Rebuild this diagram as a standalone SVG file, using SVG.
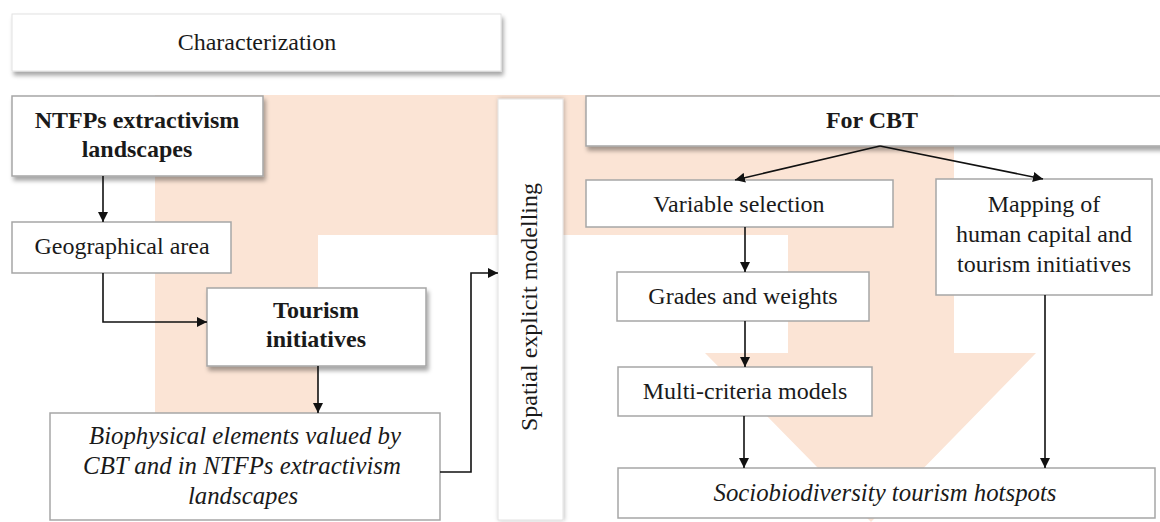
<svg xmlns="http://www.w3.org/2000/svg" width="1160" height="522" viewBox="0 0 1160 522">
  <style>
    .box { fill: #ffffff; stroke: #a6a6a6; stroke-width: 1.5; }
    .soft { fill: #ffffff; stroke: #e2e2e2; stroke-width: 1; }
    .t { font-family: 'Liberation Serif', 'Times New Roman', serif; font-size: 24px; fill: #1a1a1a; text-anchor: middle; }
    .b { font-weight: bold; }
    .i { font-style: italic; font-size: 24.8px; }
    .link { fill: none; stroke: #111111; stroke-width: 1.6; marker-end: url(#arrow); }
  </style>
  <defs>
    <marker id="arrow" viewBox="0 0 10 10" refX="10" refY="5" markerWidth="10" markerHeight="10" markerUnits="userSpaceOnUse" orient="auto">
      <path d="M0,0 L10,5 L0,10 Z" fill="#111111"/>
    </marker>
    <filter id="shadow" x="-10%" y="-20%" width="130%" height="150%">
      <feDropShadow dx="2" dy="4" stdDeviation="2" flood-color="#000000" flood-opacity="0.35"/>
    </filter>
    <filter id="glow" x="-30%" y="-5%" width="160%" height="110%">
      <feDropShadow dx="1" dy="0" stdDeviation="2" flood-color="#000000" flood-opacity="0.25"/>
    </filter>
  </defs>

  <!-- background flow arrow -->
  <path id="flow" d="M155,95 H954 V353 H1036 L871,522 L705,353 H788 V235 H318 V430 H155 Z" fill="#FBE4D5"/>

  <g id="characterization">
    <rect class="soft" x="12" y="14" width="489" height="57" filter="url(#shadow)"/>
    <text class="t" x="257" y="50">Characterization</text>
  </g>

  <g id="ntfps">
    <rect class="box" x="12" y="96" width="251" height="80" filter="url(#shadow)"/>
    <text class="t b" x="137" y="128">NTFPs extractivism</text>
    <text class="t b" x="137" y="157">landscapes</text>
  </g>

  <g id="geographical">
    <rect class="box" x="12" y="222" width="219" height="51"/>
    <text class="t" x="122" y="254">Geographical area</text>
  </g>

  <g id="tourism">
    <rect class="box" x="207" y="288" width="219" height="78" filter="url(#shadow)"/>
    <text class="t b" x="316" y="318">Tourism</text>
    <text class="t b" x="316" y="347">initiatives</text>
  </g>

  <g id="biophysical">
    <rect class="box" x="50" y="413" width="390" height="107"/>
    <text class="t i" x="245" y="444">Biophysical elements valued by</text>
    <text class="t i" x="242" y="474">CBT and in NTFPs extractivism</text>
    <text class="t i" x="243" y="504">landscapes</text>
  </g>

  <g id="spatial">
    <rect class="soft" x="498" y="99" width="65" height="421" filter="url(#glow)"/>
    <text class="t" transform="translate(537,307) rotate(-90)">Spatial explicit modelling</text>
  </g>

  <g id="forcbt">
    <rect class="box" x="586" y="96" width="580" height="50" filter="url(#shadow)"/>
    <text class="t b" x="872" y="128">For CBT</text>
  </g>

  <g id="variable">
    <rect class="box" x="586" y="180" width="307" height="47"/>
    <text class="t" x="739" y="212">Variable selection</text>
  </g>

  <g id="mapping">
    <rect class="box" x="936" y="179" width="216" height="116"/>
    <text class="t" x="1044" y="212">Mapping of</text>
    <text class="t" x="1044" y="242">human capital and</text>
    <text class="t" x="1044" y="272">tourism initiatives</text>
  </g>

  <g id="grades">
    <rect class="box" x="617" y="272" width="252" height="49"/>
    <text class="t" x="743" y="304">Grades and weights</text>
  </g>

  <g id="multicriteria">
    <rect class="box" x="618" y="367" width="254" height="49"/>
    <text class="t" x="745" y="399">Multi-criteria models</text>
  </g>

  <g id="hotspots">
    <rect class="box" x="618" y="468" width="537" height="50"/>
    <text class="t i" x="885" y="501">Sociobiodiversity tourism hotspots</text>
  </g>

  <g id="connectors">
    <path class="link" d="M103,176 V222"/>
    <path class="link" d="M103,273 V322 H207"/>
    <path class="link" d="M318,366 V413"/>
    <path class="link" d="M440,472 H471 V273 H498"/>
    <path class="link" d="M880,146 L735,180"/>
    <path class="link" d="M880,146 L1043,179"/>
    <path class="link" d="M745,227 V272"/>
    <path class="link" d="M745,321 V367"/>
    <path class="link" d="M744,416 V468"/>
    <path class="link" d="M1045,295 V468"/>
  </g>
</svg>
